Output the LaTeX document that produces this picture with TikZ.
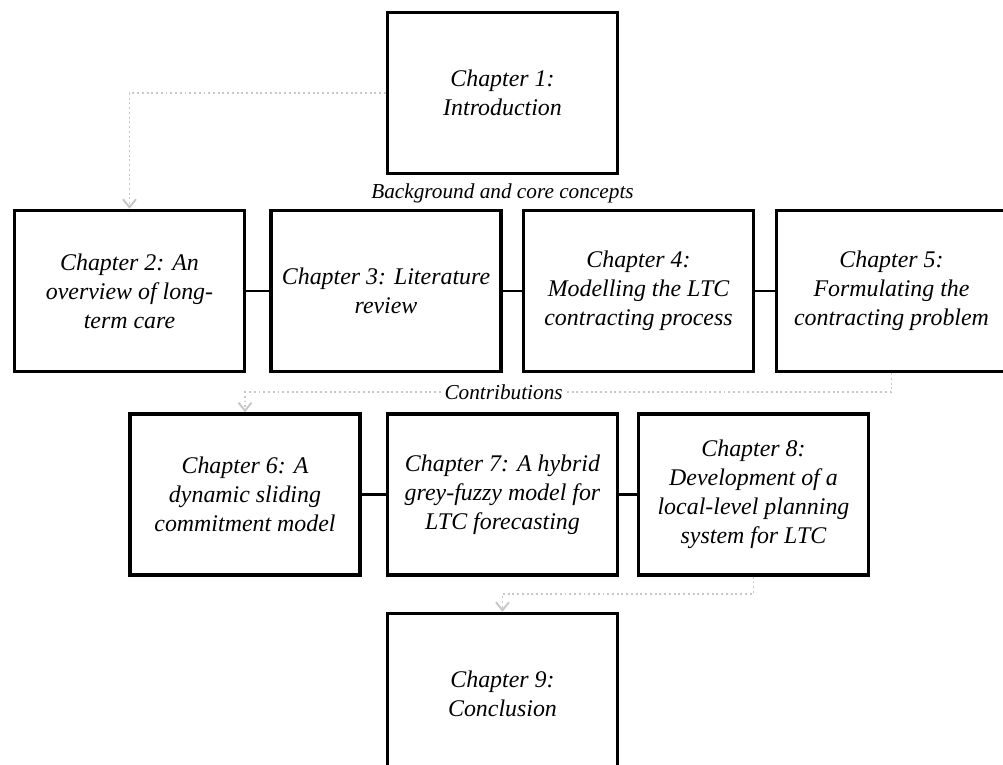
\documentclass[tikz,border=0pt]{standalone}
\usepackage{fontspec}
\setmainfont{Liberation Serif}
\usepackage{tikz}
\usetikzlibrary{arrows.meta, positioning}
\tikzstyle{chapter} = [rectangle, minimum width=4.6cm, minimum height=3.22cm, align=center, draw=black, line width=2pt, font=\itshape\fontsize{13.6}{16.5}\selectfont]
\tikzstyle{link} = [line width=1.2pt]
\tikzstyle{flow} = [line width=1.1pt, draw=black!22, dash pattern=on 1.1pt off 1.6pt, -{Straight Barb[length=1.6mm,width=2.6mm]}]
\tikzstyle{tag} = [font=\itshape\fontsize{12.1}{14}\selectfont, inner sep=1pt]

\begin{document}
\begin{tikzpicture}
    \clip (-10.05,-13.44) rectangle (10.01,1.86);
    % Nodes
    \node (ch1) [chapter] {Chapter 1:\\ Introduction};
    \node (bg) [tag, below of=ch1, node distance=2.0cm] {Background and core concepts};

    \node (ch3) [chapter, below of=ch1, node distance=3.96cm, xshift=-2.33cm] {Chapter 3: Literature\\ review};
    \node (ch2) [chapter, left of=ch3, node distance=5.13cm] {Chapter 2: An\\ overview of long-\\ term care};
    \node (ch4) [chapter, right of=ch3, node distance=5.05cm] {Chapter 4:\\ Modelling the LTC\\ contracting process};
    \node (ch5) [chapter, right of=ch4, node distance=5.06cm] {Chapter 5:\\ Formulating the\\ contracting problem};

    \node (ch7) [chapter, below of=ch1, node distance=8.03cm] {Chapter 7: A hybrid\\ grey-fuzzy model for\\ LTC forecasting};
    \node (ch6) [chapter, left of=ch7, node distance=5.15cm] {Chapter 6: A\\ dynamic sliding\\ commitment model};
    \node (ch8) [chapter, right of=ch7, node distance=5.02cm] {Chapter 8:\\ Development of a\\ local-level planning\\ system for LTC};

    \node (ch9) [chapter, below of=ch7, node distance=3.99cm] {Chapter 9:\\ Conclusion};

    % Edges
    \draw [link] (ch2) -- (ch3);
    \draw [link] (ch3) -- (ch4);
    \draw [link] (ch4) -- (ch5);
    \draw [link] (ch6) -- (ch7);
    \draw [link] (ch7) -- (ch8);

    % Reading order
    \draw [flow] (ch1.west) -| (ch2.north);
    \draw [flow] (ch5.south) -- ++(0,-0.38) -| node[tag, fill=white, pos=0.3] {Contributions} (ch6.north);
    \draw [flow] (ch8.south) -- ++(0,-0.34) -| (ch9.north);
\end{tikzpicture}
\end{document}
